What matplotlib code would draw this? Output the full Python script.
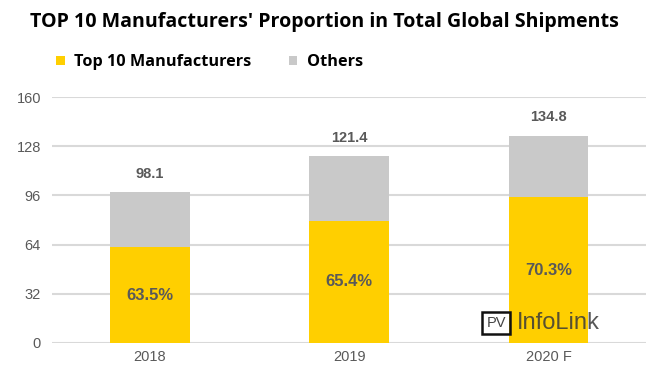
import matplotlib.pyplot as plt
import numpy as np

# Data
years = ['2018', '2019', '2020 F']
totals = [98.1, 121.4, 134.8]
top10_share = [63.5, 65.4, 70.3]
yticks = [0, 32, 64, 96, 128, 160]

top10 = [t * s / 100 for t, s in zip(totals, top10_share)]
others = [t - a for t, a in zip(totals, top10)]

yellow = '#FFCF00'
grey = '#C9C9C9'
txt = '#595959'

fig = plt.figure(figsize=(6.54, 3.72), dpi=100)
ax = fig.add_axes([0.0795, 0.078, 0.9085, 0.661])

x = np.arange(len(years))
b1 = ax.bar(x, top10, width=0.40, color=yellow, label='Top 10 Manufacturers', zorder=2)
b2 = ax.bar(x, others, width=0.40, bottom=top10, color=grey, label='Others', zorder=2)

# value labels
for xi, t, a, s in zip(x, totals, top10, top10_share):
    ax.text(xi, t + 12, f'{t:.1f}', ha='center', va='center', fontsize=10.5,
            fontweight='bold', color=txt, family='Liberation Sans')
    ax.text(xi, a / 2, f'{s:.1f}%', ha='center', va='center', fontsize=12,
            fontweight='bold', color=txt, family='Liberation Sans')

ax.set_xlim(-0.49, 2.49)
ax.set_ylim(0, 160)
ax.set_yticks(yticks)
ax.set_xticks(x)
ax.set_xticklabels(years)
ax.grid(axis='y', color='#D9D9D9', linewidth=1.5, zorder=0)
ax.set_axisbelow(True)
for sp in ax.spines.values():
    sp.set_visible(False)
ax.tick_params(length=0, labelsize=10.5, colors=txt, pad=8)
for lbl in ax.get_xticklabels() + ax.get_yticklabels():
    lbl.set_family('Liberation Sans')
ax.tick_params(axis='x', pad=5)

fig.text(0.4965, 0.941, "TOP 10 Manufacturers' Proportion in Total Global Shipments",
         ha='center', va='center', fontsize=14.1, fontweight='bold', family='Open Sans')

fig.legend(handles=[b1, b2], loc='center left', bbox_to_anchor=(0.064, 0.832), ncol=2,
           frameon=False, handlelength=0.5, handleheight=0.5, handletextpad=0.6,
           columnspacing=2.3, prop={'family': 'Open Sans', 'weight': 'bold', 'size': 11.7})

# watermark
fig.text(0.744, 0.132, 'PV', fontsize=10.5, color='#444444', ha='left', va='center',
         family='Liberation Sans',
         bbox=dict(boxstyle='square,pad=0.3', fc='none', ec='#111111', lw=1.8))
fig.text(0.79, 0.132, 'InfoLink', fontsize=17, color='#3A3A3A', ha='left', va='center',
         family='Liberation Sans', alpha=0.85)

fig.savefig('out.png', dpi=100)
